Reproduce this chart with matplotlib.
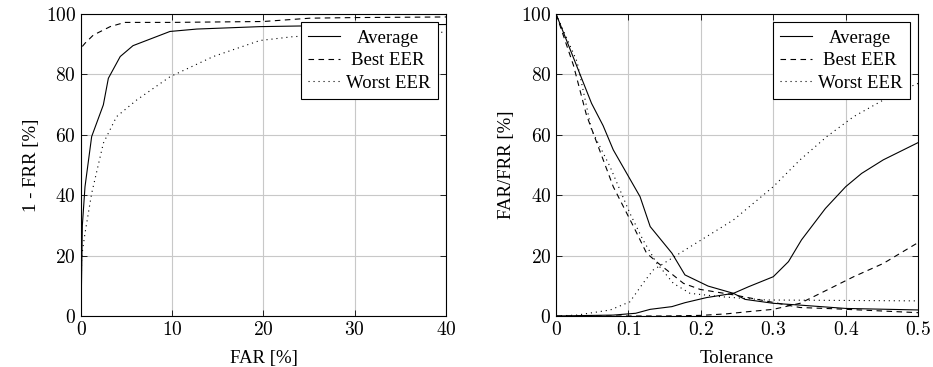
import matplotlib
matplotlib.use("Agg")
from matplotlib import pyplot as plt
from matplotlib.ticker import FuncFormatter

# ROC curves (left): FAR [%] vs 1 - FRR [%]
roc_avg_x = [0, 0.15, 0.44, 1.17, 2.45, 3.0, 4.3, 5.7, 9.75, 12.7, 19.6, 30, 40]
roc_avg_y = [0, 30, 42.8, 59.4, 69.9, 78.7, 85.9, 89.5, 94.2, 95.0, 95.8, 96.3, 96.5]
roc_best_x = [0, 0, 0.44, 1.35, 3.2, 4.8, 10, 20, 25.1, 30, 40]
roc_best_y = [0, 88.7, 90.3, 93.0, 95.8, 97.2, 97.2, 97.5, 98.6, 98.8, 99]
roc_worst_x = [0, 0.07, 0.44, 1.17, 2.45, 3.9, 6.1, 9.75, 14.5, 19.6, 23.3, 30, 39.3, 40]
roc_worst_y = [0, 19.6, 27.4, 40.6, 57.2, 66, 71.5, 79.2, 85.9, 91.2, 92.5, 93.2, 93.9, 94]

# FAR/FRR vs tolerance (right)
tol_avg_frr_x = [0, 0.049, 0.065, 0.079, 0.116, 0.13, 0.16, 0.178, 0.21, 0.245, 0.261, 0.3, 0.337, 0.4, 0.5]
tol_avg_frr_y = [100, 70.4, 63, 55, 39.5, 29.6, 20.8, 13.6, 9.9, 7.5, 5.5, 4.2, 3.6, 2.5, 2.0]
tol_avg_far_x = [0, 0.079, 0.11, 0.13, 0.16, 0.178, 0.208, 0.245, 0.266, 0.3, 0.321, 0.339, 0.372, 0.4, 0.422, 0.452, 0.5]
tol_avg_far_y = [0, 0.3, 0.9, 2.2, 3.1, 4.4, 6.1, 7.5, 9.7, 13, 18, 25.2, 35.6, 42.8, 47.2, 51.7, 57.4]
tol_best_frr_x = [0, 0.024, 0.042, 0.079, 0.107, 0.125, 0.141, 0.176, 0.199, 0.245, 0.3, 0.337, 0.383, 0.5]
tol_best_frr_y = [100, 83, 66.5, 42.8, 29.6, 20.8, 17.5, 10.8, 8.8, 7, 4.5, 2.8, 2.4, 1.1]
tol_best_far_x = [0, 0.15, 0.2, 0.235, 0.264, 0.3, 0.337, 0.365, 0.411, 0.452, 0.5]
tol_best_far_y = [0, 0, 0.2, 0.7, 1.4, 2.2, 4.2, 7.5, 13, 17.4, 24.3]
tol_worst_frr_x = [0, 0.029, 0.049, 0.0746, 0.102, 0.12, 0.139, 0.162, 0.185, 0.227, 0.29, 0.5]
tol_worst_frr_y = [100, 84.2, 61.6, 49.4, 34, 25.2, 17.5, 10.8, 7.5, 6.4, 5.3, 5.0]
tol_worst_far_x = [0, 0.029, 0.075, 0.102, 0.12, 0.134, 0.171, 0.208, 0.245, 0.3, 0.337, 0.374, 0.411, 0.452, 0.489, 0.5]
tol_worst_far_y = [0, 0.3, 2, 4.7, 10.8, 15.2, 20.8, 26.3, 31.8, 42.8, 51.7, 59.4, 66, 71.5, 75.9, 77]

series_labels = ['Average', 'Best EER', 'Worst EER']

plt.rcParams['font.family'] = ['Liberation Serif', 'DejaVu Serif']
plt.rcParams['mathtext.fontset'] = 'cm'

solid = '-'
dashed = (0, (5, 4))
dotted = (0, (1, 3.5))
lw = 0.8

fig = plt.figure(figsize=(9.33, 3.67), dpi=100)
ax1 = fig.add_axes([0.0868, 0.139, 0.3912, 0.823])
ax2 = fig.add_axes([0.596, 0.139, 0.388, 0.823])

ax1.plot(roc_avg_x, roc_avg_y, c='black', ls=solid, lw=lw, label=series_labels[0])
ax1.plot(roc_best_x, roc_best_y, c='black', ls=dashed, lw=lw, label=series_labels[1])
ax1.plot(roc_worst_x, roc_worst_y, c='black', ls=dotted, lw=lw, label=series_labels[2])
ax1.set_xlim(0, 40)
ax1.set_ylim(0, 100)
ax1.set_xticks([0, 10, 20, 30, 40])
ax1.set_yticks([0, 20, 40, 60, 80, 100])
ax1.set_xlabel('FAR [%]', fontsize=13.5, labelpad=8)
ax1.set_ylabel('1 - FRR [%]', fontsize=13.5, labelpad=4)

ax2.plot(tol_avg_frr_x, tol_avg_frr_y, c='black', ls=solid, lw=lw, label=series_labels[0])
ax2.plot(tol_best_frr_x, tol_best_frr_y, c='black', ls=dashed, lw=lw, label=series_labels[1])
ax2.plot(tol_worst_frr_x, tol_worst_frr_y, c='black', ls=dotted, lw=lw, label=series_labels[2])
ax2.plot(tol_avg_far_x, tol_avg_far_y, c='black', ls=solid, lw=lw)
ax2.plot(tol_best_far_x, tol_best_far_y, c='black', ls=dashed, lw=lw)
ax2.plot(tol_worst_far_x, tol_worst_far_y, c='black', ls=dotted, lw=lw)
ax2.set_xlim(0, 0.5)
ax2.set_ylim(0, 100)
ax2.set_xticks([0, 0.1, 0.2, 0.3, 0.4, 0.5])
ax2.set_yticks([0, 20, 40, 60, 80, 100])
ax2.set_xlabel('Tolerance', fontsize=13.5, labelpad=8)
ax2.set_ylabel('FAR/FRR [%]', fontsize=13.5, labelpad=4)

fmt = FuncFormatter(lambda v, p: '$%g$' % v)
legends = []
for ax in (ax1, ax2):
    ax.xaxis.set_major_formatter(fmt)
    ax.yaxis.set_major_formatter(fmt)
    ax.grid(True, color='#c8c8c8', lw=0.8)
    ax.set_axisbelow(True)
    ax.tick_params(direction='in', top=True, right=True, length=4, labelsize=14, width=0.6)
    for s in ax.spines.values():
        s.set_linewidth(0.8)
    leg = ax.legend(loc='upper right', fontsize=13.5, frameon=True, fancybox=False,
                    edgecolor='black', framealpha=1, handlelength=1.7,
                    handletextpad=0.3, borderpad=0.4, borderaxespad=0.45,
                    labelspacing=0.28)
    leg.get_frame().set_linewidth(0.8)
    legends.append(leg)

# centre legend labels in their column, like pgfplots does
fig.canvas.draw()
r = fig.canvas.get_renderer()
for leg in legends:
    texts = leg.get_texts()
    widths = [t.get_window_extent(r).width for t in texts]
    wmax = max(widths)
    for t, w in zip(texts, widths):
        t.set_position(((wmax - w) / 2, 0))

fig.savefig('out.png', dpi=100)
